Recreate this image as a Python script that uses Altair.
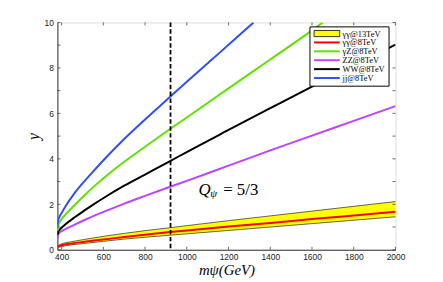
import altair as alt
import pandas as pd

# ---- data ----
series_names = ["γγ@13TeV", "γγ@8TeV", "γZ@8TeV", "ZZ@8TeV", "WW@8TeV", "jj@8TeV"]
series_colors = ["#ffff00", "#ff0000", "#5fe000", "#bb44ff", "#000000", "#2e4ff5"]

m_jj = [380, 384, 390, 400, 416, 463, 510, 557, 605, 700, 800, 920, 1000, 1100, 1200, 1320]
y_jj = [1.05, 1.3, 1.45, 1.62, 1.87, 2.5, 3.02, 3.5, 3.98, 4.87, 5.73, 6.73, 7.39, 8.2, 9.02, 10.0]

m_gz = [380, 384, 390, 400, 416, 463, 510, 557, 605, 700, 800, 920, 1000, 1200, 1400, 1600, 1652]
y_gz = [0.82, 1.07, 1.2, 1.35, 1.52, 1.97, 2.4, 2.8, 3.18, 3.87, 4.53, 5.31, 5.82, 7.1, 8.37, 9.65, 10.0]

m_vv = [380, 384, 390, 400, 416, 463, 510, 557, 605, 700, 800, 920, 1000, 1200, 1400, 1600, 1800, 2000]
y_ww = [0.65, 0.79, 0.87, 0.97, 1.1, 1.43, 1.73, 2.02, 2.3, 2.82, 3.31, 3.9, 4.3, 5.27, 6.23, 7.18, 8.1, 9.02]
y_zz = [0.5, 0.69, 0.75, 0.82, 0.9, 1.11, 1.31, 1.5, 1.68, 2.03, 2.37, 2.77, 3.03, 3.7, 4.37, 5.02, 5.67, 6.32]

m_aa = [380, 390, 400, 450, 500, 600, 700, 800, 920, 1000, 1200, 1400, 1600, 1800, 2000]
y_aa8 = [0.12, 0.17, 0.2, 0.28, 0.34, 0.45, 0.56, 0.66, 0.78, 0.85, 1.02, 1.18, 1.35, 1.51, 1.67]
y_aa13_hi = [0.15, 0.22, 0.26, 0.36, 0.44, 0.59, 0.72, 0.84, 0.97, 1.06, 1.28, 1.49, 1.7, 1.91, 2.12]
y_aa13_lo = [0.08, 0.12, 0.14, 0.22, 0.27, 0.37, 0.47, 0.55, 0.64, 0.7, 0.85, 1.0, 1.15, 1.3, 1.45]

m_cut = [922]
x_ticks = [400, 600, 800, 1000, 1200, 1400, 1600, 1800, 2000]
y_ticks = [0, 1, 2, 3, 4, 5, 6, 7, 8, 9, 10]

W, H = 342, 230

# ---- tables ----
rows = []
for name, ms, ys in [("γγ@8TeV", m_aa, y_aa8), ("ZZ@8TeV", m_vv, y_zz),
                     ("WW@8TeV", m_vv, y_ww), ("γZ@8TeV", m_gz, y_gz),
                     ("jj@8TeV", m_jj, y_jj)]:
    for i, (m, y) in enumerate(zip(ms, ys)):
        rows.append({"series": name, "m": m, "y": y, "i": i})
lines_df = pd.DataFrame(rows)

band_df = pd.DataFrame({"m": m_aa, "lo": y_aa13_lo, "hi": y_aa13_hi, "lab": series_names[0]})

xscale = alt.Scale(domain=[380, 2000], nice=False, zero=False)
yscale = alt.Scale(domain=[0, 10], nice=False)

serif = "Liberation Serif"
sans = "Liberation Sans"

x_axis = alt.Axis(values=x_ticks, format="d", title="mψ(GeV)", titleFont=serif, titleFontStyle="italic",
                  titleFontWeight="normal", titleFontSize=15, titleColor="black", titlePadding=2,
                  labelFont=sans, labelFontSize=8.5, labelColor="#222", labelPadding=3,
                  ticks=False, grid=False, domainColor="#333", labelFlush=False)
y_axis = alt.Axis(values=y_ticks, format="d", title="y", titleFont=serif, titleFontStyle="italic",
                  titleFontWeight="normal", titleFontSize=16, titleColor="black", titlePadding=3,
                  labelFont=sans, labelFontSize=8.5, labelColor="#222", labelPadding=4,
                  ticks=False, grid=False, domainColor="#333", labelFlush=False)

LEG_X, LEG_Y = 255, 4
line_legend = alt.Legend(
    title=None, orient="none", legendX=LEG_X, legendY=LEG_Y,
    symbolType="M-1,0H9", symbolSize=27, symbolStrokeWidth=2,
    labelFont=serif, labelFontSize=8.5, labelColor="black", labelOffset=22,
    rowPadding=0, padding=3, fillColor="white", strokeColor="black", zindex=1,
)
band_legend = alt.Legend(
    title=None, orient="none", legendX=LEG_X, legendY=LEG_Y,
    symbolType="M-1,-1.2H9V1.2H-1Z", symbolSize=27, symbolStrokeWidth=0.8,
    symbolStrokeColor="black", symbolOpacity=1,
    labelFont=serif, labelFontSize=8.5, labelOpacity=0, labelOffset=22,
    rowPadding=0, padding=3, zindex=2,
)

band = alt.Chart(band_df).mark_area(opacity=1, interpolate="monotone").encode(
    x=alt.X("m:Q", scale=xscale, axis=x_axis),
    y=alt.Y("lo:Q", scale=yscale, axis=y_axis),
    y2="hi:Q",
    fill=alt.Fill("lab:N", scale=alt.Scale(domain=[series_names[0]], range=[series_colors[0]]),
                  legend=band_legend),
)
band_lo = alt.Chart(band_df).mark_line(color="#222", strokeWidth=0.7, interpolate="monotone").encode(
    x="m:Q", y="lo:Q")
band_hi = alt.Chart(band_df).mark_line(color="#222", strokeWidth=0.7, interpolate="monotone").encode(
    x="m:Q", y="hi:Q")

lines = alt.Chart(lines_df).mark_line(strokeWidth=2, interpolate="monotone", clip=True).encode(
    x="m:Q",
    y="y:Q",
    stroke=alt.Stroke("series:N", scale=alt.Scale(domain=series_names, range=series_colors),
                      legend=line_legend),
    detail="series:N",
    order="i:Q",
)

cut = alt.Chart(pd.DataFrame({"m": m_cut})).mark_rule(color="black", strokeWidth=1.8,
                                                      strokeDash=[4.5, 2.5]).encode(x="m:Q")

ann = pd.DataFrame({"m": [1056], "y": [2.43]})
q1 = alt.Chart(ann).mark_text(text="Q", font=serif, fontStyle="italic", fontSize=17,
                              align="left", baseline="alphabetic").encode(x="m:Q", y="y:Q")
q2 = alt.Chart(ann).mark_text(text="ψ", font=serif, fontStyle="italic", fontSize=11,
                              align="left", baseline="alphabetic", dx=12, dy=3).encode(x="m:Q", y="y:Q")
q3 = alt.Chart(ann).mark_text(text="= 5/3", font=serif, fontSize=17,
                              align="left", baseline="alphabetic", dx=25).encode(x="m:Q", y="y:Q")

xt = pd.DataFrame({"m": x_ticks})
yt = pd.DataFrame({"y": y_ticks})
tick_style = dict(color="#444", strokeWidth=0.8)
tb = alt.Chart(xt).mark_rule(**tick_style).encode(x="m:Q", y=alt.value(H), y2=alt.value(H - 3))
tt = alt.Chart(xt).mark_rule(**tick_style).encode(x="m:Q", y=alt.value(0), y2=alt.value(3))
tl = alt.Chart(yt).mark_rule(**tick_style).encode(y="y:Q", x=alt.value(0), x2=alt.value(3))
tr = alt.Chart(yt).mark_rule(**tick_style).encode(y="y:Q", x=alt.value(W), x2=alt.value(W - 3))

chart = alt.layer(band, band_lo, band_hi, lines, cut, q1, q2, q3, tb, tt, tl, tr).properties(
    width=W, height=H,
    autosize=alt.AutoSizeParams(type="none"),
    padding={"left": 50, "top": 13, "right": 40, "bottom": 30},
).resolve_scale(fill="independent", stroke="independent").configure_view(
    stroke="#999", strokeWidth=1).configure(background="white")

chart.save("out.html", embed_options={"renderer": "svg", "actions": False})
